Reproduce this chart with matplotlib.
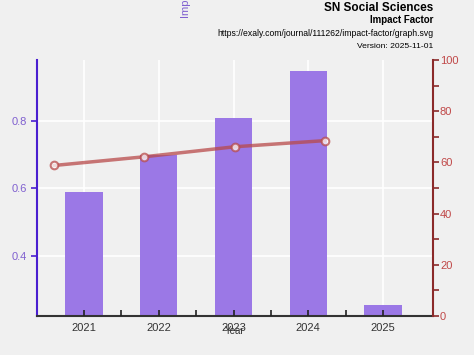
import matplotlib
matplotlib.use("Agg")
import matplotlib.pyplot as plt
from matplotlib.ticker import MultipleLocator, FixedLocator

plt.rcParams['font.family'] = ['Liberation Sans', 'DejaVu Sans']

years = [2021, 2022, 2023, 2024, 2025]
impact = [0.59, 0.70, 0.809, 0.948, 0.255]
line_years = [2021, 2022, 2023, 2024]
percentile = [58.8, 62.2, 66.1, 68.5]

bg = '#f0f0f0'
fig = plt.figure(figsize=(4.74, 3.55), dpi=100, facecolor=bg)
pos = [37/474, 1-316/355, (433-37)/474, (316-60)/355]
ax = fig.add_axes(pos)
ax.set_facecolor(bg)

xlim = (2020.37, 2025.67)
ax.bar(years, impact, width=0.5, color='#9b78e6', zorder=2)
ax.set_xlim(*xlim)
ax.set_ylim(0.222, 0.98)
ax.set_xticks(years)
ax.set_xticklabels([str(y) for y in years])
ax.set_yticks([0.4, 0.6, 0.8])
ax.grid(True, color='white', linewidth=1.2, zorder=0)
ax.set_axisbelow(True)
ax.tick_params(axis='x', which='both', direction='in', length=0,
               labelsize=8, labelcolor='#333333', pad=5)
ax.tick_params(axis='y', direction='out', length=4, color='#4a1fd0', width=1.2,
               labelsize=8, labelcolor='#8060d0')
for s in ['top', 'right']:
    ax.spines[s].set_visible(False)
ax.spines['left'].set_color('#4a1fd0')
ax.spines['left'].set_linewidth(1.5)
ax.spines['bottom'].set_color('#333333')
ax.spines['bottom'].set_linewidth(1.5)
ax.set_xlabel('Year', fontsize=7, color='#333333', labelpad=-5)

# overlay for x tick marks drawn above bars
ax3 = fig.add_axes(pos)
ax3.patch.set_visible(False)
for s in ax3.spines.values():
    s.set_visible(False)
ax3.set_xlim(*xlim)
ax3.set_ylim(0, 1)
ax3.set_xticks(years)
ax3.xaxis.set_minor_locator(FixedLocator([y + 0.5 for y in years[:-1]]))
ax3.tick_params(axis='x', which='both', direction='in', length=4, color='#222222', width=1.2,
                labelbottom=False)
ax3.set_yticks([])

ax2 = fig.add_axes(pos)
ax2.patch.set_visible(False)
for s in ['top', 'left', 'bottom']:
    ax2.spines[s].set_visible(False)
ax2.set_xlim(2020.81, 2025.20)
ax2.set_ylim(0, 100)
ax2.plot(line_years, percentile, color='#b84a4a', alpha=0.75, linewidth=2.5,
         marker='o', markersize=5.5, markerfacecolor='white', markeredgecolor='#b84a4a',
         markeredgewidth=1.5, zorder=3)
ax2.xaxis.set_visible(False)
ax2.yaxis.tick_right()
ax2.set_yticks([0, 20, 40, 60, 80, 100])
ax2.yaxis.set_minor_locator(MultipleLocator(10))
ax2.tick_params(axis='y', which='both', direction='out', length=4, color='#8b2a2a', width=1.2,
                labelsize=8, labelcolor='#c04848', pad=1)
ax2.spines['right'].set_visible(True)
ax2.spines['right'].set_color('#8b2a2a')
ax2.spines['right'].set_linewidth(1.5)

fig.text(433/474, 1-8/355, 'SN Social Sciences', ha='right', va='center',
         fontsize=8.5, fontweight='bold', color='black')
fig.text(433/474, 1-20/355, 'Impact Factor', ha='right', va='center',
         fontsize=7, fontweight='bold', color='black')
fig.text(433/474, 1-34/355, 'https://exaly.com/journal/111262/impact-factor/graph.svg',
         ha='right', va='center', fontsize=6.2, color='black')
fig.text(433/474, 1-46/355, 'Version: 2025-11-01', ha='right', va='center',
         fontsize=6.1, color='black')
fig.text(186/474, 1-18/355, 'Impact Factor', rotation=90, ha='center', va='bottom',
         fontsize=8, color='#8060d0')

fig.savefig('out.png', dpi=100, facecolor=bg)
